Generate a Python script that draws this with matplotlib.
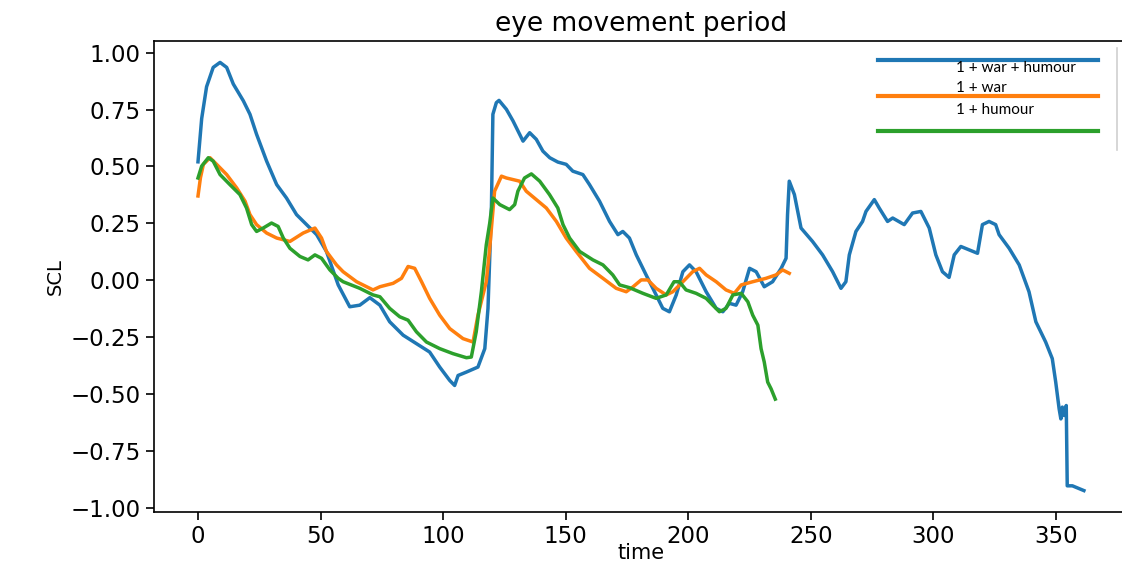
import matplotlib
matplotlib.use("Agg")
import matplotlib.pyplot as plt
from matplotlib.lines import Line2D

# ---- data ----
blue_x = [0, 1.5, 3.5, 6.2, 9, 11.7, 14.4, 18.5, 21.2, 23.9, 28, 32.1, 36.1, 40.2, 44.3, 48.4,
          52.4, 57.2, 61.9, 66, 70.1, 74.2, 78.2, 83.7, 89.1, 94.5, 98.6, 102.7, 104.7, 106.1,
          109.5, 114.2, 117, 118.3, 119.7, 120.3, 121.7, 122.8, 125.8, 128.5, 132.6, 135.3, 138,
          140.7, 143.5, 146.8, 150.2, 152.9, 157, 159.7, 163.8, 167.9, 171.3, 173.3, 176, 178.8,
          182.8, 186.9, 189.6, 192.3, 195.1, 197.8, 200.5, 203.2, 207.3, 211.4, 214.1, 216.8,
          219.5, 222.2, 225, 227.7, 231, 234.4, 237.9, 239.9, 240.5, 241.2, 243.3, 246, 250.7,
          254.8, 258.9, 262.3, 264.3, 265.7, 268.4, 271.1, 272.5, 275.9, 277.9, 281.3, 283.4,
          288.1, 291.5, 294.9, 298.3, 301, 303.7, 306.4, 308.5, 311.2, 314.6, 318, 320, 322.7,
          325.4, 326.8, 330.9, 335, 339, 341.8, 345.8, 348.5, 349.9, 351.3, 352, 352.6, 353.3,
          354.2, 354.6, 356.7, 361.4]
blue_y = [0.52, 0.71, 0.85, 0.935, 0.957, 0.935, 0.862, 0.788, 0.729, 0.641, 0.523, 0.42, 0.361,
          0.288, 0.244, 0.2, 0.126, -0.021, -0.117, -0.11, -0.077, -0.11, -0.183, -0.242, -0.279,
          -0.316, -0.382, -0.441, -0.463, -0.419, -0.404, -0.382, -0.301, -0.124, 0.317, 0.729,
          0.78, 0.79, 0.751, 0.70, 0.611, 0.648, 0.619, 0.567, 0.538, 0.519, 0.509, 0.479, 0.464,
          0.42, 0.347, 0.258, 0.2, 0.214, 0.185, 0.111, 0.023, -0.065, -0.124, -0.139, -0.065,
          0.037, 0.067, 0.037, -0.051, -0.124, -0.139, -0.102, -0.11, -0.051, 0.052, 0.037,
          -0.029, -0.007, 0.052, 0.096, 0.288, 0.435, 0.376, 0.229, 0.17, 0.111, 0.037, -0.036,
          -0.007, 0.111, 0.214, 0.258, 0.302, 0.354, 0.317, 0.258, 0.273, 0.244, 0.295, 0.302,
          0.229, 0.111, 0.037, 0.012, 0.111, 0.148, 0.133, 0.118, 0.244, 0.258, 0.244, 0.2,
          0.14, 0.067, -0.051, -0.183, -0.272, -0.345, -0.448, -0.566, -0.61, -0.558, -0.595,
          -0.551, -0.904, -0.904, -0.925]

orange_x = [0, 1, 2.2, 4.9, 7.6, 11.7, 15.8, 19.2, 21.2, 23.9, 28, 32.1, 37.5, 42.9, 47.7, 50.4,
            52.4, 56.5, 59.2, 64.7, 71.4, 74.2, 79.6, 83, 85.7, 88.4, 91.2, 94.5, 98.6, 102.7,
            108.1, 112.2, 114.2, 117.6, 119, 121, 123.8, 125.8, 128.5, 131.2, 133.9, 138, 142.1,
            146.2, 150.2, 154.3, 159.7, 165.2, 170.6, 174.7, 177.4, 180.8, 183.5, 186.9, 191,
            193.7, 197.8, 201.8, 204.6, 207.3, 211.4, 215.4, 218.8, 221.6, 226.3, 231.7, 235.8,
            238.5, 241.2]
orange_y = [0.37, 0.45, 0.509, 0.538, 0.509, 0.464, 0.405, 0.347, 0.288, 0.244, 0.207, 0.185,
            0.17, 0.207, 0.229, 0.185, 0.126, 0.067, 0.037, -0.007, -0.043, -0.029, -0.014,
            0.008, 0.06, 0.052, -0.007, -0.08, -0.154, -0.213, -0.257, -0.272, -0.154, -0.007,
            0.14, 0.391, 0.457, 0.449, 0.442, 0.435, 0.391, 0.354, 0.317, 0.258, 0.185, 0.126,
            0.052, 0.008, -0.036, -0.051, -0.03, 0.001, 0.001, -0.036, -0.065, -0.051, -0.007,
            0.037, 0.052, 0.023, -0.007, -0.043, -0.058, -0.021, -0.007, 0.008, 0.023, 0.045,
            0.03]

green_x = [0, 1.5, 4.2, 6.2, 9, 13, 17.1, 19.8, 21.9, 23.9, 26.6, 30, 32.7, 34.8, 37.5, 41.6,
           44.9, 47.7, 50.4, 53.8, 57.2, 59.2, 66, 71.4, 74.2, 78.2, 82.3, 85.7, 89.1, 93.2, 98.6,
           104, 109.5, 111.5, 113.5, 115.6, 117.6, 119, 120.3, 123.1, 127.1, 129.2, 130.5, 133.2,
           136, 139.4, 143.4, 146.8, 148.9, 151.6, 155.7, 161.1, 165.2, 169.2, 172, 176, 181.5,
           186.9, 191, 194.2, 196.4, 199.1, 203.2, 207.3, 210, 212.7, 215.4, 218.2, 221.6, 224.3,
           226.3, 228.4, 229.7, 231, 232.4, 233.8, 235.5]
green_y = [0.449, 0.501, 0.538, 0.523, 0.464, 0.42, 0.376, 0.317, 0.244, 0.214, 0.229, 0.251,
           0.236, 0.185, 0.14, 0.104, 0.089, 0.111, 0.096, 0.045, 0.008, -0.007, -0.036, -0.065,
           -0.073, -0.124, -0.161, -0.176, -0.227, -0.272, -0.301, -0.323, -0.341, -0.338,
           -0.227, -0.051, 0.155, 0.25, 0.361, 0.332, 0.31, 0.332, 0.391, 0.449, 0.467, 0.435,
           0.376, 0.317, 0.244, 0.185, 0.126, 0.089, 0.067, 0.023, -0.021, -0.033, -0.058, -0.08,
           -0.065, -0.007, -0.007, -0.043, -0.058, -0.08, -0.11, -0.139, -0.124, -0.065, -0.058,
           -0.095, -0.154, -0.198, -0.301, -0.36, -0.448, -0.478, -0.523]

series_labels = ["1 + war + humour", "1 + war", "1 + humour"]
title_text = "eye movement period"
x_label = "time"
y_label = "SCL"
y_ticks = [-1.00, -0.75, -0.50, -0.25, 0.00, 0.25, 0.50, 0.75, 1.00]
x_ticks = [0, 50, 100, 150, 200, 250, 300, 350]

C_BLUE, C_ORANGE, C_GREEN = "#1f77b4", "#ff7f0e", "#2ca02c"

W, H = 1122, 562
fig = plt.figure(figsize=(W / 100, H / 100), dpi=100)
ax = fig.add_axes([153.7 / W, 1 - 512 / H, 974.5 / W, 471 / H])

lw = 2.5
ax.plot(blue_x, blue_y, color=C_BLUE, lw=lw)
ax.plot(orange_x, orange_y, color=C_ORANGE, lw=lw)
ax.plot(green_x, green_y, color=C_GREEN, lw=lw)

ax.set_yticks(y_ticks)
ax.set_xticks(x_ticks)
ax.tick_params(labelsize=16.5, length=6, width=1.2)
ax.set_title(title_text, fontsize=19, pad=7)
ax.set_xlabel(x_label, fontsize=15, labelpad=-4)
ax.set_ylabel(y_label, fontsize=14, labelpad=4)
for sp in ax.spines.values():
    sp.set_linewidth(1.2)
ax.spines["right"].set_visible(False)

# ---- custom legend block drawn in figure pixels ----
def fx(px):
    return px / W

def fy(py):
    return 1 - py / H

fig.patches.append(plt.Rectangle((fx(862), fy(150)), fx(1117) - fx(862), fy(46) - fy(150),
                                 transform=fig.transFigure, facecolor="white",
                                 edgecolor="none", zorder=5))
fig.add_artist(Line2D([fx(1117), fx(1117)], [fy(48), fy(150)], color="#d0d0d0", lw=1.2,
                      transform=fig.transFigure, zorder=6))
for yy, col in [(60, C_BLUE), (96, C_ORANGE), (131, C_GREEN)]:
    fig.add_artist(Line2D([fx(878), fx(1098)], [fy(yy), fy(yy)], color=col, lw=3,
                          transform=fig.transFigure, zorder=6))
for yy, lab in [(68, series_labels[0]), (88, series_labels[1]), (110, series_labels[2])]:
    fig.text(fx(956), fy(yy), lab, fontsize=11, family="Lato", ha="left", va="center",
             zorder=7)

fig.savefig("out.png", dpi=100)
